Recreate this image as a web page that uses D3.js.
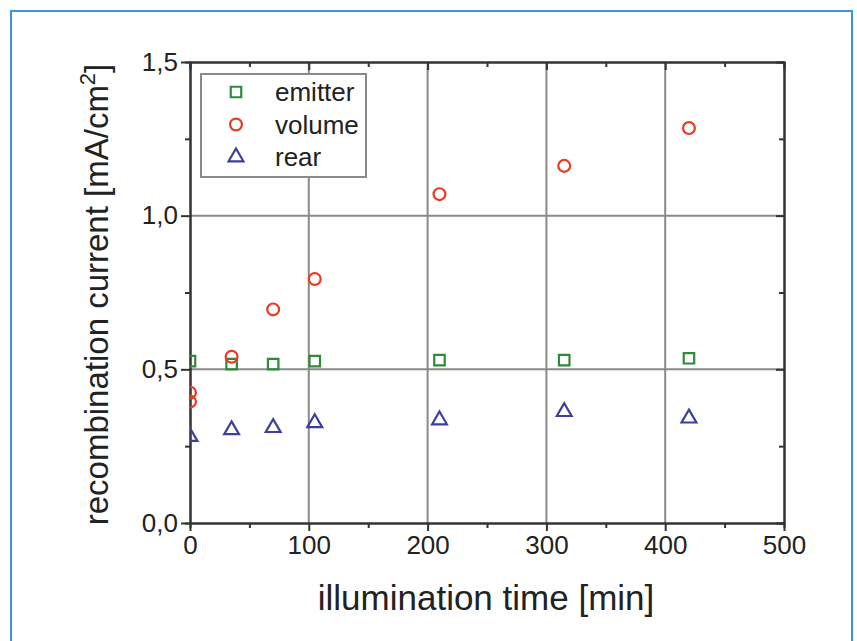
<!DOCTYPE html>
<html>
<head>
<meta charset="utf-8">
<script src="https://cdn.jsdelivr.net/npm/d3@7"></script>
<style>
  body { margin: 0; background: #fff; }
  text { font-family: "Liberation Sans", Arial, sans-serif; fill: #222; }
</style>
</head>
<body>
<svg width="857" height="641"></svg>
<script>
// illumination time in minutes
const TIME = [0, 35, 70, 105, 210, 315, 420];
const EMITTER = [0.527, 0.517, 0.517, 0.527, 0.53, 0.53, 0.536];
const VOLUME = [0.424, 0.541, 0.695, 0.794, 1.07, 1.162, 1.285];
const VOLUME_EXTRA = [{ t: 0, v: 0.395 }]; // second volume reading at t=0
const REAR = [0.281, 0.303, 0.31, 0.326, 0.335, 0.362, 0.341];

const SERIES = ["emitter", "volume", "rear"];
const X_TICKS = [0, 100, 200, 300, 400, 500];
const Y_TICKS = [0, 0.5, 1.0, 1.5];

const LEFT = 190, RIGHT = 784, TOP = 62, BOTTOM = 523;

const svg = d3.select('svg');

// blue frame round the figure
svg.append('rect')
  .attr('x', 11).attr('y', 11)
  .attr('width', 841).attr('height', 700)
  .attr('fill', 'none')
  .attr('stroke', '#3f93d8')
  .attr('stroke-width', 2);

const x = d3.scaleLinear().domain([0, 500]).range([LEFT, RIGHT]);
const y = d3.scaleLinear().domain([0, 1.5]).range([BOTTOM, TOP]);

const fmtY = d => d3.format('.1f')(d).replace('.', ',');

// grid
svg.append('g').selectAll('line')
  .data(X_TICKS.slice(1, -1))
  .enter().append('line')
  .attr('x1', d => x(d)).attr('x2', d => x(d))
  .attr('y1', TOP).attr('y2', BOTTOM)
  .attr('stroke', '#8a8a8a').attr('stroke-width', 2);

svg.append('g').selectAll('line')
  .data(Y_TICKS.slice(1, -1))
  .enter().append('line')
  .attr('x1', LEFT).attr('x2', RIGHT)
  .attr('y1', d => y(d)).attr('y2', d => y(d))
  .attr('stroke', '#8a8a8a').attr('stroke-width', 2);

const minorX = d3.range(50, 500, 100);
const minorY = [0.25, 0.75, 1.25];

function styleAxis(g) {
  g.selectAll('.domain').attr('stroke', '#333').attr('stroke-width', 2);
  g.selectAll('.tick line').attr('stroke', '#333').attr('stroke-width', 2);
  g.selectAll('.tick text')
    .attr('font-size', 26)
    .attr('font-family', '"Liberation Sans", Arial, sans-serif')
    .attr('fill', '#222');
}

// bottom axis
svg.append('g')
  .attr('transform', `translate(0,${BOTTOM})`)
  .call(d3.axisBottom(x).tickValues(X_TICKS).tickSize(8).tickSizeOuter(0).tickPadding(5))
  .call(styleAxis);
svg.append('g')
  .attr('transform', `translate(0,${BOTTOM})`)
  .call(d3.axisBottom(x).tickValues(minorX).tickSize(5).tickFormat(''))
  .call(styleAxis);

// top axis, ticks inward
svg.append('g')
  .attr('transform', `translate(0,${TOP})`)
  .call(d3.axisBottom(x).tickValues(X_TICKS).tickSize(8).tickSizeOuter(0).tickFormat(''))
  .call(styleAxis);
svg.append('g')
  .attr('transform', `translate(0,${TOP})`)
  .call(d3.axisBottom(x).tickValues(minorX).tickSize(5).tickFormat(''))
  .call(styleAxis);

// left axis
svg.append('g')
  .attr('transform', `translate(${LEFT},0)`)
  .call(d3.axisLeft(y).tickValues(Y_TICKS).tickFormat(fmtY).tickSize(9).tickSizeOuter(0).tickPadding(3))
  .call(styleAxis);
svg.append('g')
  .attr('transform', `translate(${LEFT},0)`)
  .call(d3.axisLeft(y).tickValues(minorY).tickSize(5).tickFormat(''))
  .call(styleAxis);

// right axis, ticks inward
svg.append('g')
  .attr('transform', `translate(${RIGHT},0)`)
  .call(d3.axisLeft(y).tickValues(Y_TICKS).tickSize(8).tickSizeOuter(0).tickFormat(''))
  .call(styleAxis);
svg.append('g')
  .attr('transform', `translate(${RIGHT},0)`)
  .call(d3.axisLeft(y).tickValues(minorY).tickSize(5).tickFormat(''))
  .call(styleAxis);

// markers
const COLORS = { emitter: '#2f8b3b', volume: '#ea3a22', rear: '#3d3f9e' };
const SHAPES = {
  emitter: d3.symbol().type(d3.symbolSquare).size(110),
  volume: d3.symbol().type(d3.symbolCircle).size(110),
  rear: d3.symbol().type(d3.symbolTriangle).size(95)
};

svg.append('clipPath').attr('id', 'plot')
  .append('rect')
  .attr('x', LEFT).attr('y', TOP)
  .attr('width', RIGHT - LEFT).attr('height', BOTTOM - TOP);

const pts = [];
TIME.forEach((t, i) => {
  pts.push({ s: 'emitter', t: t, v: EMITTER[i] });
  pts.push({ s: 'volume', t: t, v: VOLUME[i] });
  pts.push({ s: 'rear', t: t, v: REAR[i] });
});
VOLUME_EXTRA.forEach(d => pts.push({ s: 'volume', t: d.t, v: d.v }));

svg.append('g').attr('clip-path', 'url(#plot)')
  .selectAll('path')
  .data(pts)
  .enter().append('path')
  .attr('d', d => SHAPES[d.s]())
  .attr('transform', d => `translate(${x(d.t)},${y(d.v)})`)
  .attr('fill', 'none')
  .attr('stroke', d => COLORS[d.s])
  .attr('stroke-width', 2.2);

// legend
const legend = svg.append('g');
legend.append('rect')
  .attr('x', 201).attr('y', 74)
  .attr('width', 165).attr('height', 103)
  .attr('fill', '#fff')
  .attr('stroke', '#8a8a8a')
  .attr('stroke-width', 2);

const rows = legend.selectAll('g.row')
  .data(SERIES)
  .enter().append('g')
  .attr('transform', (d, i) => `translate(0,${92 + i * 32.5})`);
rows.append('path')
  .attr('d', d => SHAPES[d]())
  .attr('transform', 'translate(236,0)')
  .attr('fill', 'none')
  .attr('stroke', d => COLORS[d])
  .attr('stroke-width', 2.2);
rows.append('text')
  .attr('x', 275).attr('y', 9)
  .attr('font-size', 26)
  .text(d => d);

// axis titles
svg.append('text')
  .attr('x', 486).attr('y', 610)
  .attr('text-anchor', 'middle')
  .attr('font-size', 35)
  .text('illumination time [min]');

const yt = svg.append('text')
  .attr('transform', `translate(108,${(TOP + BOTTOM) / 2 + 2}) rotate(-90)`)
  .attr('text-anchor', 'middle')
  .attr('font-size', 33);
yt.append('tspan').text('recombination current [mA/cm');
yt.append('tspan').attr('dy', -13).attr('font-size', 22).text('2');
yt.append('tspan').attr('dy', 13).text(']');
</script>
</body>
</html>
